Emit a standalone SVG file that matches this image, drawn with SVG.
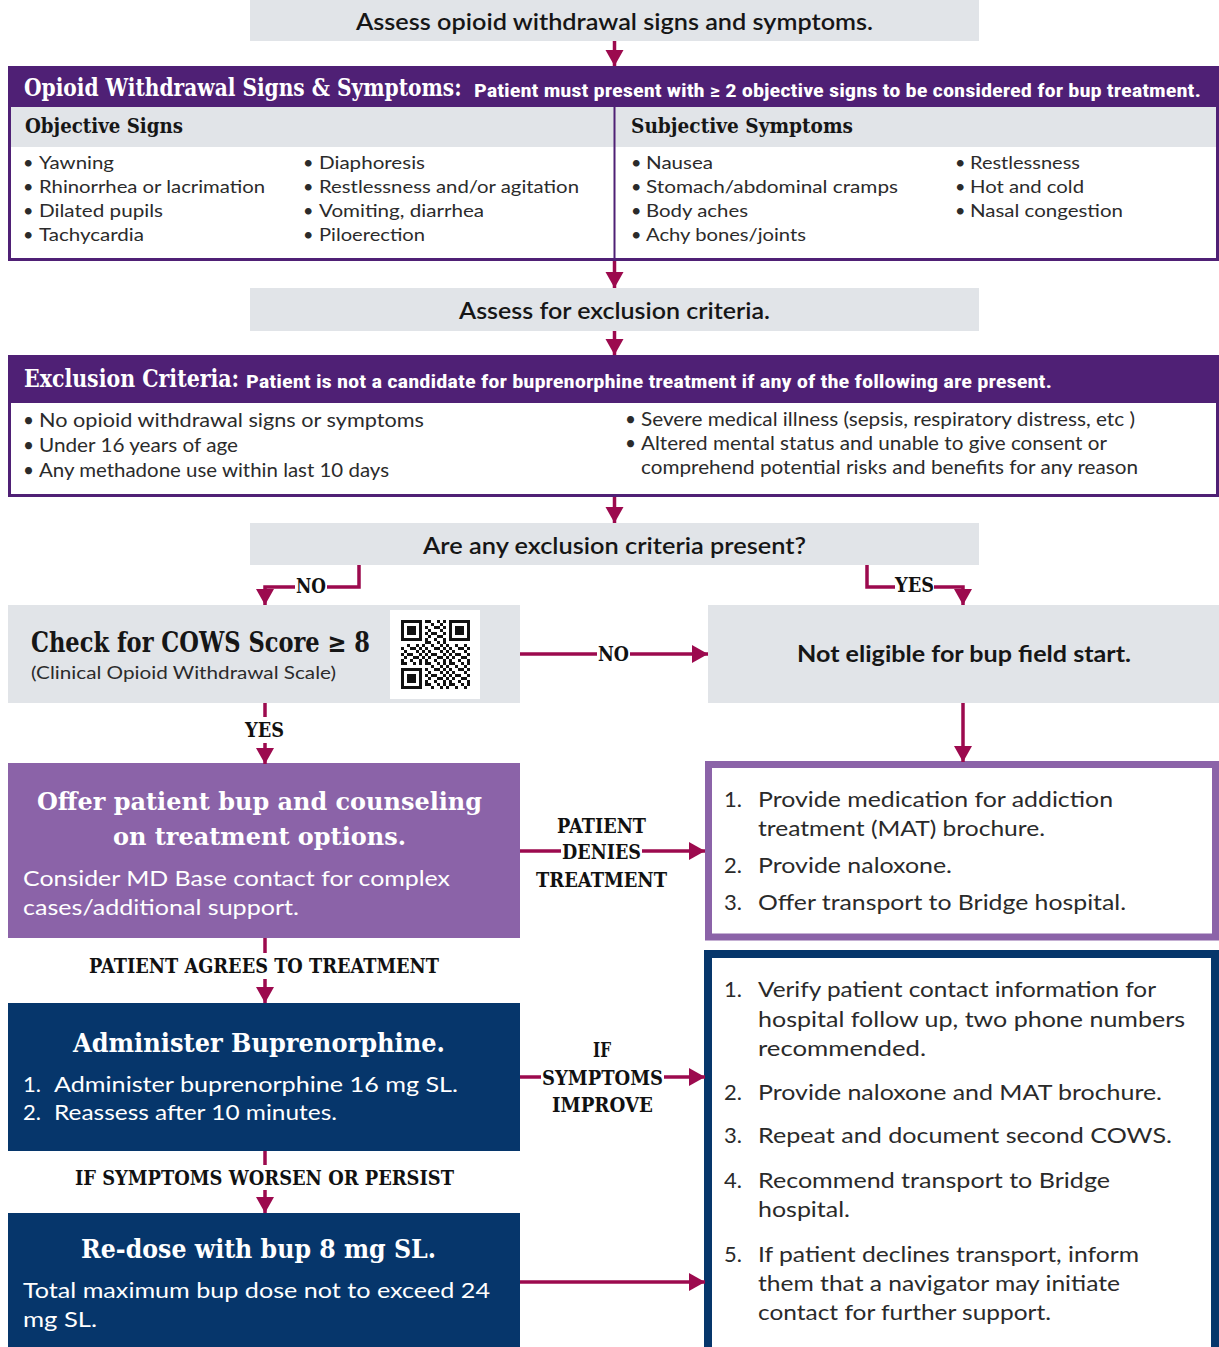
<svg xmlns="http://www.w3.org/2000/svg" width="1219" height="1347" viewBox="0 0 1219 1347">
<style>
.slab{font-family:"DejaVu Serif","Liberation Serif",serif;font-weight:bold}
.cond{font-family:"Roboto Condensed",Roboto,"Liberation Sans",sans-serif;font-weight:bold;fill:#fff}
.sans{font-family:Lato,"Open Sans","Liberation Sans",sans-serif}
.gbox{fill:#e1e4e8}
.gt{font-family:Lato,"Open Sans","Liberation Sans",sans-serif;font-weight:600;font-size:22px;fill:#161616}
.li{font-family:Lato,"Open Sans","Liberation Sans",sans-serif;font-size:18px;fill:#2b2b2b}
.ex{font-family:Lato,"Open Sans","Liberation Sans",sans-serif;font-size:19px;fill:#2b2b2b}
.rt{font-family:Lato,"Open Sans","Liberation Sans",sans-serif;font-size:22px;fill:#2a2a2a}
.wt{font-family:Lato,"Open Sans","Liberation Sans",sans-serif;font-size:22px;fill:#fff}
.lbl{font-family:"DejaVu Serif","Liberation Serif",serif;font-weight:bold;font-size:20px;fill:#111;text-anchor:middle}
.conn path{fill:none;stroke:#9c0a4e;stroke-width:3.5}
</style>
<defs>
<marker id="ah" markerUnits="userSpaceOnUse" markerWidth="18" markerHeight="18" refX="16" refY="9" orient="auto" overflow="visible">
<path d="M0,0 L16,9 L0,18 z" fill="#9c0a4e"/>
</marker>
<pattern id="qrp" patternUnits="userSpaceOnUse" x="401" y="620" width="24" height="21">
<rect width="24" height="21" fill="#fff"/>
<g fill="#111">
<rect x="0" y="0" width="6" height="3"/><rect x="12" y="0" width="3" height="3"/><rect x="18" y="0" width="3" height="3"/>
<rect x="6" y="3" width="3" height="3"/><rect x="15" y="3" width="3" height="3"/><rect x="21" y="3" width="3" height="3"/>
<rect x="0" y="6" width="3" height="3"/><rect x="9" y="6" width="6" height="3"/><rect x="18" y="6" width="3" height="3"/>
<rect x="3" y="9" width="3" height="3"/><rect x="15" y="9" width="3" height="3"/><rect x="21" y="9" width="3" height="3"/>
<rect x="0" y="12" width="3" height="3"/><rect x="6" y="12" width="6" height="3"/><rect x="18" y="12" width="3" height="3"/>
<rect x="3" y="15" width="3" height="3"/><rect x="12" y="15" width="6" height="3"/><rect x="21" y="15" width="3" height="3"/>
<rect x="0" y="18" width="3" height="3"/><rect x="9" y="18" width="3" height="3"/><rect x="18" y="18" width="3" height="3"/>
</g>
</pattern>
</defs>

<g id="assess-withdrawal">
<rect class="gbox" x="250" y="0" width="729" height="41"/>
<text class="gt" x="614.5" y="30" text-anchor="middle" textLength="517" lengthAdjust="spacingAndGlyphs">Assess opioid withdrawal signs and symptoms.</text>
</g>

<g id="signs-symptoms">
<rect x="9.5" y="67.5" width="1208" height="192" fill="#fff" stroke="#4f2075" stroke-width="3"/>
<rect x="8" y="66" width="1211" height="41" fill="#4f2075"/>
<rect class="gbox" x="11" y="107" width="1205" height="40"/>
<line x1="614.5" y1="107" x2="614.5" y2="259" stroke="#4f2075" stroke-width="2"/>
<text class="slab" transform="translate(24 96) scale(0.8 1)" x="0" y="0" font-size="24" fill="#fff" textLength="547" lengthAdjust="spacingAndGlyphs">Opioid Withdrawal Signs &amp; Symptoms:</text>
<text class="cond" x="474" y="97" font-size="18" textLength="727" lengthAdjust="spacingAndGlyphs">Patient must present with ≥ 2 objective signs to be considered for bup treatment.</text>
<text class="slab" x="25" y="133" font-size="21" fill="#161616" textLength="158" lengthAdjust="spacingAndGlyphs">Objective Signs</text>
<text class="slab" x="631" y="133" font-size="21" fill="#161616" textLength="222" lengthAdjust="spacingAndGlyphs">Subjective Symptoms</text>
<g class="li">
<text x="23" y="169">•</text><text x="39" y="169" textLength="75" lengthAdjust="spacingAndGlyphs">Yawning</text>
<text x="23" y="193">•</text><text x="39" y="193" textLength="226" lengthAdjust="spacingAndGlyphs">Rhinorrhea or lacrimation</text>
<text x="23" y="217">•</text><text x="39" y="217" textLength="124" lengthAdjust="spacingAndGlyphs">Dilated pupils</text>
<text x="23" y="241">•</text><text x="39" y="241" textLength="105" lengthAdjust="spacingAndGlyphs">Tachycardia</text>
<text x="303" y="169">•</text><text x="319" y="169" textLength="106" lengthAdjust="spacingAndGlyphs">Diaphoresis</text>
<text x="303" y="193">•</text><text x="319" y="193" textLength="260" lengthAdjust="spacingAndGlyphs">Restlessness and/or agitation</text>
<text x="303" y="217">•</text><text x="319" y="217" textLength="165" lengthAdjust="spacingAndGlyphs">Vomiting, diarrhea</text>
<text x="303" y="241">•</text><text x="319" y="241" textLength="106" lengthAdjust="spacingAndGlyphs">Piloerection</text>
<text x="631" y="169">•</text><text x="646" y="169" textLength="67" lengthAdjust="spacingAndGlyphs">Nausea</text>
<text x="631" y="193">•</text><text x="646" y="193" textLength="252" lengthAdjust="spacingAndGlyphs">Stomach/abdominal cramps</text>
<text x="631" y="217">•</text><text x="646" y="217" textLength="102" lengthAdjust="spacingAndGlyphs">Body aches</text>
<text x="631" y="241">•</text><text x="646" y="241" textLength="160" lengthAdjust="spacingAndGlyphs">Achy bones/joints</text>
<text x="955" y="169">•</text><text x="970" y="169" textLength="110" lengthAdjust="spacingAndGlyphs">Restlessness</text>
<text x="955" y="193">•</text><text x="970" y="193" textLength="114" lengthAdjust="spacingAndGlyphs">Hot and cold</text>
<text x="955" y="217">•</text><text x="970" y="217" textLength="153" lengthAdjust="spacingAndGlyphs">Nasal congestion</text>
</g>
</g>

<g id="assess-exclusion">
<rect class="gbox" x="250" y="288" width="729" height="43"/>
<text class="gt" x="614.5" y="319" text-anchor="middle" textLength="311" lengthAdjust="spacingAndGlyphs">Assess for exclusion criteria.</text>
</g>

<g id="exclusion-criteria">
<rect x="9.5" y="356.5" width="1208" height="139" fill="#fff" stroke="#4f2075" stroke-width="3"/>
<rect x="8" y="355" width="1211" height="48" fill="#4f2075"/>
<text class="slab" transform="translate(24 387) scale(0.8 1)" x="0" y="0" font-size="24" fill="#fff" textLength="269" lengthAdjust="spacingAndGlyphs">Exclusion Criteria:</text>
<text class="cond" x="246" y="388" font-size="18" textLength="806" lengthAdjust="spacingAndGlyphs">Patient is not a candidate for buprenorphine treatment if any of the following are present.</text>
<g class="ex">
<text x="23" y="427">•</text><text x="39" y="427" textLength="385" lengthAdjust="spacingAndGlyphs">No opioid withdrawal signs or symptoms</text>
<text x="23" y="452">•</text><text x="39" y="452" textLength="199" lengthAdjust="spacingAndGlyphs">Under 16 years of age</text>
<text x="23" y="477">•</text><text x="39" y="477" textLength="350" lengthAdjust="spacingAndGlyphs">Any methadone use within last 10 days</text>
<text x="625" y="426">•</text><text x="641" y="426" textLength="494" lengthAdjust="spacingAndGlyphs">Severe medical illness (sepsis, respiratory distress, etc )</text>
<text x="625" y="450">•</text><text x="641" y="450" textLength="466" lengthAdjust="spacingAndGlyphs">Altered mental status and unable to give consent or</text>
<text x="641" y="474" textLength="497" lengthAdjust="spacingAndGlyphs">comprehend potential risks and benefits for any reason</text>
</g>
</g>

<g id="exclusion-question">
<rect class="gbox" x="250" y="523" width="729" height="42"/>
<text class="gt" x="614.5" y="554" text-anchor="middle" textLength="383" lengthAdjust="spacingAndGlyphs">Are any exclusion criteria present?</text>
</g>

<g id="cows-check">
<rect class="gbox" x="8" y="605" width="512" height="98"/>
<text class="slab" x="31" y="652" font-size="27" fill="#161616" textLength="339" lengthAdjust="spacingAndGlyphs">Check for COWS Score ≥ 8</text>
<text class="sans" x="31" y="679" font-size="18" fill="#2b2b2b" textLength="305" lengthAdjust="spacingAndGlyphs">(Clinical Opioid Withdrawal Scale)</text>
<rect x="390" y="610" width="90" height="89" fill="#fff"/>
<rect x="401" y="620" width="69" height="69" fill="url(#qrp)"/>
<g>
<rect x="401" y="620" width="24" height="24" fill="#fff"/>
<rect x="446" y="620" width="24" height="24" fill="#fff"/>
<rect x="401" y="665" width="24" height="24" fill="#fff"/>
<rect x="402.5" y="621.5" width="18" height="18" fill="none" stroke="#111" stroke-width="3"/>
<rect x="407" y="626" width="9" height="9" fill="#111"/>
<rect x="450.5" y="621.5" width="18" height="18" fill="none" stroke="#111" stroke-width="3"/>
<rect x="455" y="626" width="9" height="9" fill="#111"/>
<rect x="402.5" y="669.5" width="18" height="18" fill="none" stroke="#111" stroke-width="3"/>
<rect x="407" y="674" width="9" height="9" fill="#111"/>
</g>
</g>

<g id="not-eligible">
<rect class="gbox" x="708" y="605" width="511" height="98"/>
<text class="sans" x="964" y="662" font-size="22" font-weight="bold" fill="#161616" text-anchor="middle" textLength="334" lengthAdjust="spacingAndGlyphs">Not eligible for bup field start.</text>
</g>

<g id="offer-bup">
<rect x="8" y="763" width="512" height="175" fill="#8b63a8"/>
<text class="slab" x="259.5" y="810" font-size="25" fill="#fff" text-anchor="middle" textLength="445" lengthAdjust="spacingAndGlyphs">Offer patient bup and counseling</text>
<text class="slab" x="259.5" y="845" font-size="25" fill="#fff" text-anchor="middle" textLength="293" lengthAdjust="spacingAndGlyphs">on treatment options.</text>
<text class="wt" x="23" y="886" textLength="427" lengthAdjust="spacingAndGlyphs">Consider MD Base contact for complex</text>
<text class="wt" x="23" y="915" textLength="276" lengthAdjust="spacingAndGlyphs">cases/additional support.</text>
</g>

<g id="denies-actions">
<rect x="708.5" y="764.5" width="507" height="172.5" fill="#fff" stroke="#8b63a8" stroke-width="7"/>
<g class="rt">
<text x="724" y="807">1.</text><text x="758" y="807" textLength="355" lengthAdjust="spacingAndGlyphs">Provide medication for addiction</text>
<text x="758" y="836" textLength="287" lengthAdjust="spacingAndGlyphs">treatment (MAT) brochure.</text>
<text x="724" y="873">2.</text><text x="758" y="873" textLength="194" lengthAdjust="spacingAndGlyphs">Provide naloxone.</text>
<text x="724" y="910">3.</text><text x="758" y="910" textLength="368" lengthAdjust="spacingAndGlyphs">Offer transport to Bridge hospital.</text>
</g>
</g>

<g id="administer-bup">
<rect x="8" y="1003" width="512" height="148" fill="#06366b"/>
<text class="slab" x="259" y="1052" font-size="26" fill="#fff" text-anchor="middle" textLength="372" lengthAdjust="spacingAndGlyphs">Administer Buprenorphine.</text>
<text class="wt" x="23" y="1092">1.</text><text class="wt" x="54" y="1092" textLength="404" lengthAdjust="spacingAndGlyphs">Administer buprenorphine 16 mg SL.</text>
<text class="wt" x="23" y="1120">2.</text><text class="wt" x="54" y="1120" textLength="283" lengthAdjust="spacingAndGlyphs">Reassess after 10 minutes.</text>
</g>

<g id="redose-bup">
<rect x="8" y="1213" width="512" height="140" fill="#06366b"/>
<text class="slab" x="258.5" y="1258" font-size="26" fill="#fff" text-anchor="middle" textLength="355" lengthAdjust="spacingAndGlyphs">Re-dose with bup 8 mg SL.</text>
<text class="wt" x="23" y="1298" textLength="467" lengthAdjust="spacingAndGlyphs">Total maximum bup dose not to exceed 24</text>
<text class="wt" x="23" y="1327" textLength="74" lengthAdjust="spacingAndGlyphs">mg SL.</text>
</g>

<g id="improve-actions">
<rect x="708" y="954" width="507" height="400" fill="#fff" stroke="#06366b" stroke-width="8"/>
<g class="rt">
<text x="724" y="997">1.</text><text x="758" y="997" textLength="398" lengthAdjust="spacingAndGlyphs">Verify patient contact information for</text>
<text x="758" y="1027" textLength="427" lengthAdjust="spacingAndGlyphs">hospital follow up, two phone numbers</text>
<text x="758" y="1056" textLength="168" lengthAdjust="spacingAndGlyphs">recommended.</text>
<text x="724" y="1100">2.</text><text x="758" y="1100" textLength="404" lengthAdjust="spacingAndGlyphs">Provide naloxone and MAT brochure.</text>
<text x="724" y="1143">3.</text><text x="758" y="1143" textLength="414" lengthAdjust="spacingAndGlyphs">Repeat and document second COWS.</text>
<text x="724" y="1188">4.</text><text x="758" y="1188" textLength="352" lengthAdjust="spacingAndGlyphs">Recommend transport to Bridge</text>
<text x="758" y="1217" textLength="92" lengthAdjust="spacingAndGlyphs">hospital.</text>
<text x="724" y="1262">5.</text><text x="758" y="1262" textLength="381" lengthAdjust="spacingAndGlyphs">If patient declines transport, inform</text>
<text x="758" y="1291" textLength="362" lengthAdjust="spacingAndGlyphs">them that a navigator may initiate</text>
<text x="758" y="1320" textLength="293" lengthAdjust="spacingAndGlyphs">contact for further support.</text>
</g>
</g>

<g id="connectors" class="conn">
<path d="M614.5 41 V66" marker-end="url(#ah)"/>
<path d="M614.5 261 V288" marker-end="url(#ah)"/>
<path d="M614.5 331 V355" marker-end="url(#ah)"/>
<path d="M614.5 497 V523" marker-end="url(#ah)"/>
<path d="M359 565 V587 H327"/>
<path d="M295 587 H265 V605" marker-end="url(#ah)"/>
<path d="M867 565 V587 H895"/>
<path d="M934 587 H963 V605" marker-end="url(#ah)"/>
<path d="M520 654 H597"/>
<path d="M630 654 H708" marker-end="url(#ah)"/>
<path d="M963 703 V762" marker-end="url(#ah)"/>
<path d="M265 703 V717"/>
<path d="M265 743 V764" marker-end="url(#ah)"/>
<path d="M520 851 H561"/>
<path d="M642 851 H705" marker-end="url(#ah)"/>
<path d="M265 938 V953"/>
<path d="M265 979 V1003" marker-end="url(#ah)"/>
<path d="M520 1077 H541"/>
<path d="M664 1077 H705" marker-end="url(#ah)"/>
<path d="M265 1151 V1165"/>
<path d="M265 1190 V1213" marker-end="url(#ah)"/>
<path d="M520 1282 H705" marker-end="url(#ah)"/>
<g>
<text class="lbl" x="311" y="593" textLength="30" lengthAdjust="spacingAndGlyphs">NO</text>
<text class="lbl" x="914.5" y="592" textLength="39" lengthAdjust="spacingAndGlyphs">YES</text>
<text class="lbl" x="613.5" y="661" textLength="31" lengthAdjust="spacingAndGlyphs">NO</text>
<text class="lbl" x="264.5" y="737" textLength="39" lengthAdjust="spacingAndGlyphs">YES</text>
<text class="lbl" x="601.5" y="833" textLength="89" lengthAdjust="spacingAndGlyphs">PATIENT</text>
<text class="lbl" x="601.5" y="859" textLength="79" lengthAdjust="spacingAndGlyphs">DENIES</text>
<text class="lbl" x="601.5" y="887" textLength="131" lengthAdjust="spacingAndGlyphs">TREATMENT</text>
<text class="lbl" x="264" y="973" textLength="350" lengthAdjust="spacingAndGlyphs">PATIENT AGREES TO TREATMENT</text>
<text class="lbl" x="602" y="1057" textLength="18" lengthAdjust="spacingAndGlyphs">IF</text>
<text class="lbl" x="602.5" y="1085" textLength="121" lengthAdjust="spacingAndGlyphs">SYMPTOMS</text>
<text class="lbl" x="602.5" y="1112" textLength="101" lengthAdjust="spacingAndGlyphs">IMPROVE</text>
<text class="lbl" x="264.5" y="1185" textLength="379" lengthAdjust="spacingAndGlyphs">IF SYMPTOMS WORSEN OR PERSIST</text>
</g>
</g>
</svg>
